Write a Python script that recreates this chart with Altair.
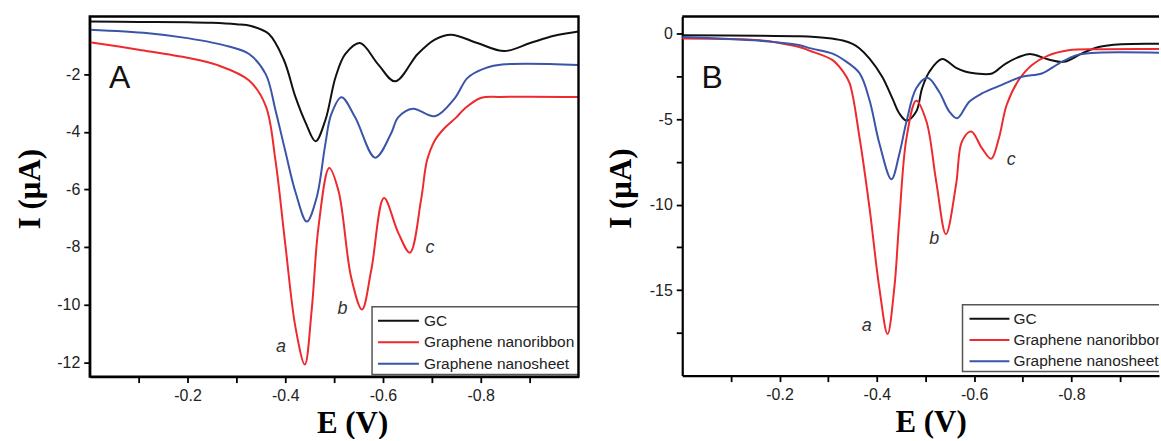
import altair as alt
import pandas as pd

# ---------------- Panel A data (E in V, I in uA) ----------------
A_GC_E = [0, -0.1, -0.2, -0.25, -0.3, -0.33, -0.366, -0.397, -0.421, -0.442, -0.462, -0.482, -0.503, -0.523,
          -0.553, -0.59, -0.625, -0.671, -0.706, -0.739, -0.793, -0.848, -0.901, -0.95, -1.0]
A_GC_I = [-0.17, -0.19, -0.2, -0.22, -0.27, -0.33, -0.6, -1.5, -2.8, -3.7, -4.33, -3.6, -2.1, -1.3,
          -0.92, -1.66, -2.25, -1.3, -0.8, -0.63, -0.92, -1.2, -0.92, -0.67, -0.52]

A_NR_E = [0, -0.1, -0.203, -0.26, -0.326, -0.36, -0.38, -0.40, -0.421, -0.44, -0.454, -0.468, -0.49, -0.509,
          -0.535, -0.557, -0.576, -0.602, -0.631, -0.655, -0.678, -0.69, -0.706, -0.726, -0.75, -0.767, -0.80,
          -0.84, -1.0]
A_NR_I = [-0.89, -1.15, -1.44, -1.68, -2.22, -3.1, -5.0, -7.9, -10.8, -12.08, -10.2, -7.3, -5.26, -6.06,
          -9.07, -10.17, -8.8, -6.3, -7.5, -8.2, -6.35, -5.0, -4.3, -3.87, -3.5, -3.2, -2.83,
          -2.79, -2.79]

A_NS_E = [0, -0.12, -0.2, -0.285, -0.326, -0.36, -0.38, -0.40, -0.421, -0.444, -0.464, -0.482, -0.494, -0.515,
          -0.543, -0.584, -0.616, -0.631, -0.661, -0.706, -0.747, -0.773, -0.808, -0.848, -1.0]
A_NS_I = [-0.46, -0.58, -0.75, -1.04, -1.3, -2.0, -3.25, -4.67, -6.1, -7.12, -6.3, -4.43, -3.4, -2.8,
          -3.5, -4.9, -4.08, -3.5, -3.2, -3.46, -2.83, -2.13, -1.8, -1.66, -1.68]

# ---------------- Panel B data ----------------
B_GC_E = [0, -0.16, -0.242, -0.297, -0.33, -0.35, -0.364, -0.385, -0.411, -0.432, -0.446, -0.461, -0.481, -0.493,
          -0.508, -0.534, -0.563, -0.583, -0.604, -0.637, -0.665, -0.712, -0.753, -0.784, -0.821, -0.856, -0.903, -1.0]
B_GC_I = [-0.1, -0.13, -0.15, -0.25, -0.4, -0.6, -0.85, -1.46, -2.52, -3.79, -4.66, -5.09, -4.56, -3.2,
          -2.23, -1.49, -2.0, -2.23, -2.33, -2.33, -1.75, -1.2, -1.51, -1.65, -1.17, -0.78, -0.62, -0.6]

B_NR_E = [0, -0.16, -0.2, -0.242, -0.262, -0.309, -0.33, -0.344, -0.364, -0.385, -0.405, -0.422, -0.436, -0.446,
          -0.461, -0.481, -0.502, -0.522, -0.542, -0.563, -0.575, -0.594, -0.616, -0.635, -0.651, -0.667, -0.692,
          -0.719, -0.753, -0.794, -0.856, -1.0]
B_NR_I = [-0.29, -0.39, -0.55, -0.8, -1.0, -1.55, -2.2, -2.9, -6.0, -10.2, -14.85, -17.57, -14.85, -10.97,
          -6.1, -3.92, -5.14, -8.64, -11.73, -8.8, -6.3, -5.72, -6.7, -7.32, -6.1, -4.16, -2.7,
          -1.83, -1.27, -0.97, -0.91, -0.9]

B_NS_E = [0, -0.16, -0.242, -0.262, -0.309, -0.33, -0.364, -0.385, -0.405, -0.43, -0.446, -0.461, -0.481, -0.504,
          -0.528, -0.549, -0.565, -0.59, -0.616, -0.657, -0.698, -0.739, -0.774, -0.809, -0.841, -1.0]
B_NS_I = [-0.2, -0.42, -0.68, -0.85, -1.17, -1.5, -2.3, -3.9, -6.4, -8.52, -7.07, -5.14, -3.2, -2.58,
          -3.4, -4.56, -4.95, -3.98, -3.5, -3.0, -2.52, -2.33, -1.75, -1.27, -1.13, -1.13]

SERIES = ["GC", "Graphene nanoribbon", "Graphene nanosheet"]
COLORS = ["#111111", "#ee2a2e", "#3a55a8"]

# peak annotations
A_ANN_LABEL = ["a", "b", "c"]
A_ANN_E = [-0.391, -0.517, -0.696]
A_ANN_I = [-11.49, -10.14, -8.03]
B_ANN_LABEL = ["a", "b", "c"]
B_ANN_E = [-0.379, -0.518, -0.676]
B_ANN_I = [-17.08, -12.02, -7.42]

X_TICKS = [-0.1, -0.2, -0.3, -0.4, -0.5, -0.6, -0.7, -0.8, -0.9]
A_Y_TICKS = [-1, -2, -3, -4, -5, -6, -7, -8, -9, -10, -11, -12]
B_Y_TICKS = [0, -2.5, -5, -7.5, -10, -12.5, -15, -17.5]

SANS = "Liberation Sans"
SERIF = "Liberation Serif"
MINUS = "\u2212"


def series_df(triples):
    rows = []
    for name, es, is_ in triples:
        for e, i in zip(es, is_):
            rows.append({"E": e, "I": i, "series": name})
    return pd.DataFrame(rows)


color_scale = alt.Scale(domain=SERIES, range=COLORS)


def panel(df, ann, xdom, ydom, yticks, ymod, W, H, letter, leg, xtitle_x, ytitle_x):
    x_axis = alt.Axis(
        values=X_TICKS, format=".1f",
        labelExpr=f"round(datum.value*10) % 2 == 0 ? replace(datum.label, '{MINUS}', '-') : ''",
        tickSize=6, tickWidth=1.8, tickColor="black", domainWidth=2.2, domainColor="black",
        labelFont=SANS, labelFontSize=16, labelColor="#222", labelPadding=5, labelOverlap=False,
        labelFlush=False, grid=False,
        title="E (V)", titleFont=SERIF, titleFontSize=31, titleFontWeight="bold", titleColor="black",
        titleX=xtitle_x, titleY=56, titleBaseline="alphabetic", titleAlign="center",
    )
    y_axis = alt.Axis(
        values=yticks, format="d" if ymod == 2 else "",
        labelExpr=f"datum.value % {ymod} == 0 ? replace(datum.label, '{MINUS}', '-') : ''",
        tickSize=6, tickWidth=1.8, tickColor="black", domainWidth=2.2, domainColor="black",
        labelFont=SANS, labelFontSize=16, labelColor="#222", labelPadding=4, labelOverlap=False,
        labelFlush=False, grid=False,
        title="I (\u03bcA)", titleFont=SERIF, titleFontSize=31, titleFontWeight="bold", titleColor="black",
        titleX=ytitle_x, titleY=H / 2 - 8, titleBaseline="alphabetic", titleAlign="center", titleAngle=270,
    )
    xs = alt.Scale(domain=xdom, nice=False, zero=False)
    ys = alt.Scale(domain=ydom, nice=False, zero=False)

    lines = alt.Chart(df).mark_line(strokeWidth=2, interpolate="catmull-rom", clip=True).encode(
        x=alt.X("E:Q", scale=xs, axis=x_axis),
        y=alt.Y("I:Q", scale=ys, axis=y_axis),
        color=alt.Color("series:N", scale=color_scale, legend=None),
        order=alt.Order("E:Q", sort="descending"),
    )
    labels = alt.Chart(ann).mark_text(
        font=SANS, fontSize=18, fontStyle="italic", color="#333", align="center", baseline="middle"
    ).encode(
        x=alt.X("E:Q", scale=xs), y=alt.Y("I:Q", scale=ys), text="label:N"
    )
    letter_mark = alt.Chart(pd.DataFrame({"t": [letter]})).mark_text(
        font=SANS, fontSize=32, color="#111", align="center", baseline="middle"
    ).encode(x=alt.value(30), y=alt.value(62), text="t:N")

    # legend box
    lx0, ly0, lx1, ly1, sx0, sx1, tx, ry0, rdy = leg
    box = alt.Chart(pd.DataFrame({"k": [0]})).mark_rect(
        fill="white", stroke="#555", strokeWidth=1.5, clip=True
    ).encode(x=alt.value(lx0), x2=alt.value(lx1), y=alt.value(ly0), y2=alt.value(ly1))
    leg_df = pd.DataFrame({"series": SERIES, "row": list(range(len(SERIES)))})
    leg_df["py"] = [ry0 + r * rdy for r in leg_df["row"]]
    leg_lines = alt.Chart(leg_df).mark_rule(strokeWidth=2, clip=True).encode(
        x=alt.value(sx0), x2=alt.value(sx1),
        y=alt.Y("py:Q", scale=None, axis=None),
        color=alt.Color("series:N", scale=color_scale, legend=None),
    )
    leg_text = alt.Chart(leg_df).mark_text(
        font=SANS, fontSize=15.5, color="#222", align="left", baseline="middle", clip=True
    ).encode(x=alt.value(tx), y=alt.Y("py:Q", scale=None, axis=None), text="series:N")

    layers = [lines, labels, letter_mark, box, leg_lines, leg_text]
    return alt.layer(*layers).properties(width=W, height=H)


dfA = series_df([(SERIES[0], A_GC_E, A_GC_I), (SERIES[1], A_NR_E, A_NR_I), (SERIES[2], A_NS_E, A_NS_I)])
dfB = series_df([(SERIES[0], B_GC_E, B_GC_I), (SERIES[1], B_NR_E, B_NR_I), (SERIES[2], B_NS_E, B_NS_I)])
annA = pd.DataFrame({"label": A_ANN_LABEL, "E": A_ANN_E, "I": A_ANN_I})
annB = pd.DataFrame({"label": B_ANN_LABEL, "E": B_ANN_E, "I": B_ANN_I})

WA, HA = 490, 361
WB, HB = 478, 360

frameA = alt.Chart(pd.DataFrame({"k": [0]})).mark_rect(
    fill="transparent", stroke="black", strokeWidth=2.4
).encode(x=alt.value(0), x2=alt.value(WA), y=alt.value(0), y2=alt.value(HA))
topB = alt.Chart(pd.DataFrame({"k": [0]})).mark_rule(
    stroke="black", strokeWidth=2.6
).encode(x=alt.value(0), x2=alt.value(WB), y=alt.value(0))

pA = panel(dfA, annA, [0, -1.0], [-12.5, 0], A_Y_TICKS, 2, WA, HA, "A",
           (283, 291, 490, 359, 289, 330, 335, 305, 21.5), 263, -50)
pB = panel(dfB, annB, [0, -0.98], [-20, 1], B_Y_TICKS, 5, WB, HB, "B",
           (281, 289, 520, 356, 288, 328, 332, 303, 21.3), 249, -52)

chartA = alt.layer(pA, frameA)
chartB = alt.layer(pB, topB)

chart = alt.hconcat(chartA, chartB, spacing=25).properties(
    padding={"left": 15, "top": 14, "right": 0, "bottom": 0},
    background="white",
).configure_view(strokeWidth=0).resolve_scale(color="shared")

chart.save("out.html", embed_options={"renderer": "svg", "actions": False})
